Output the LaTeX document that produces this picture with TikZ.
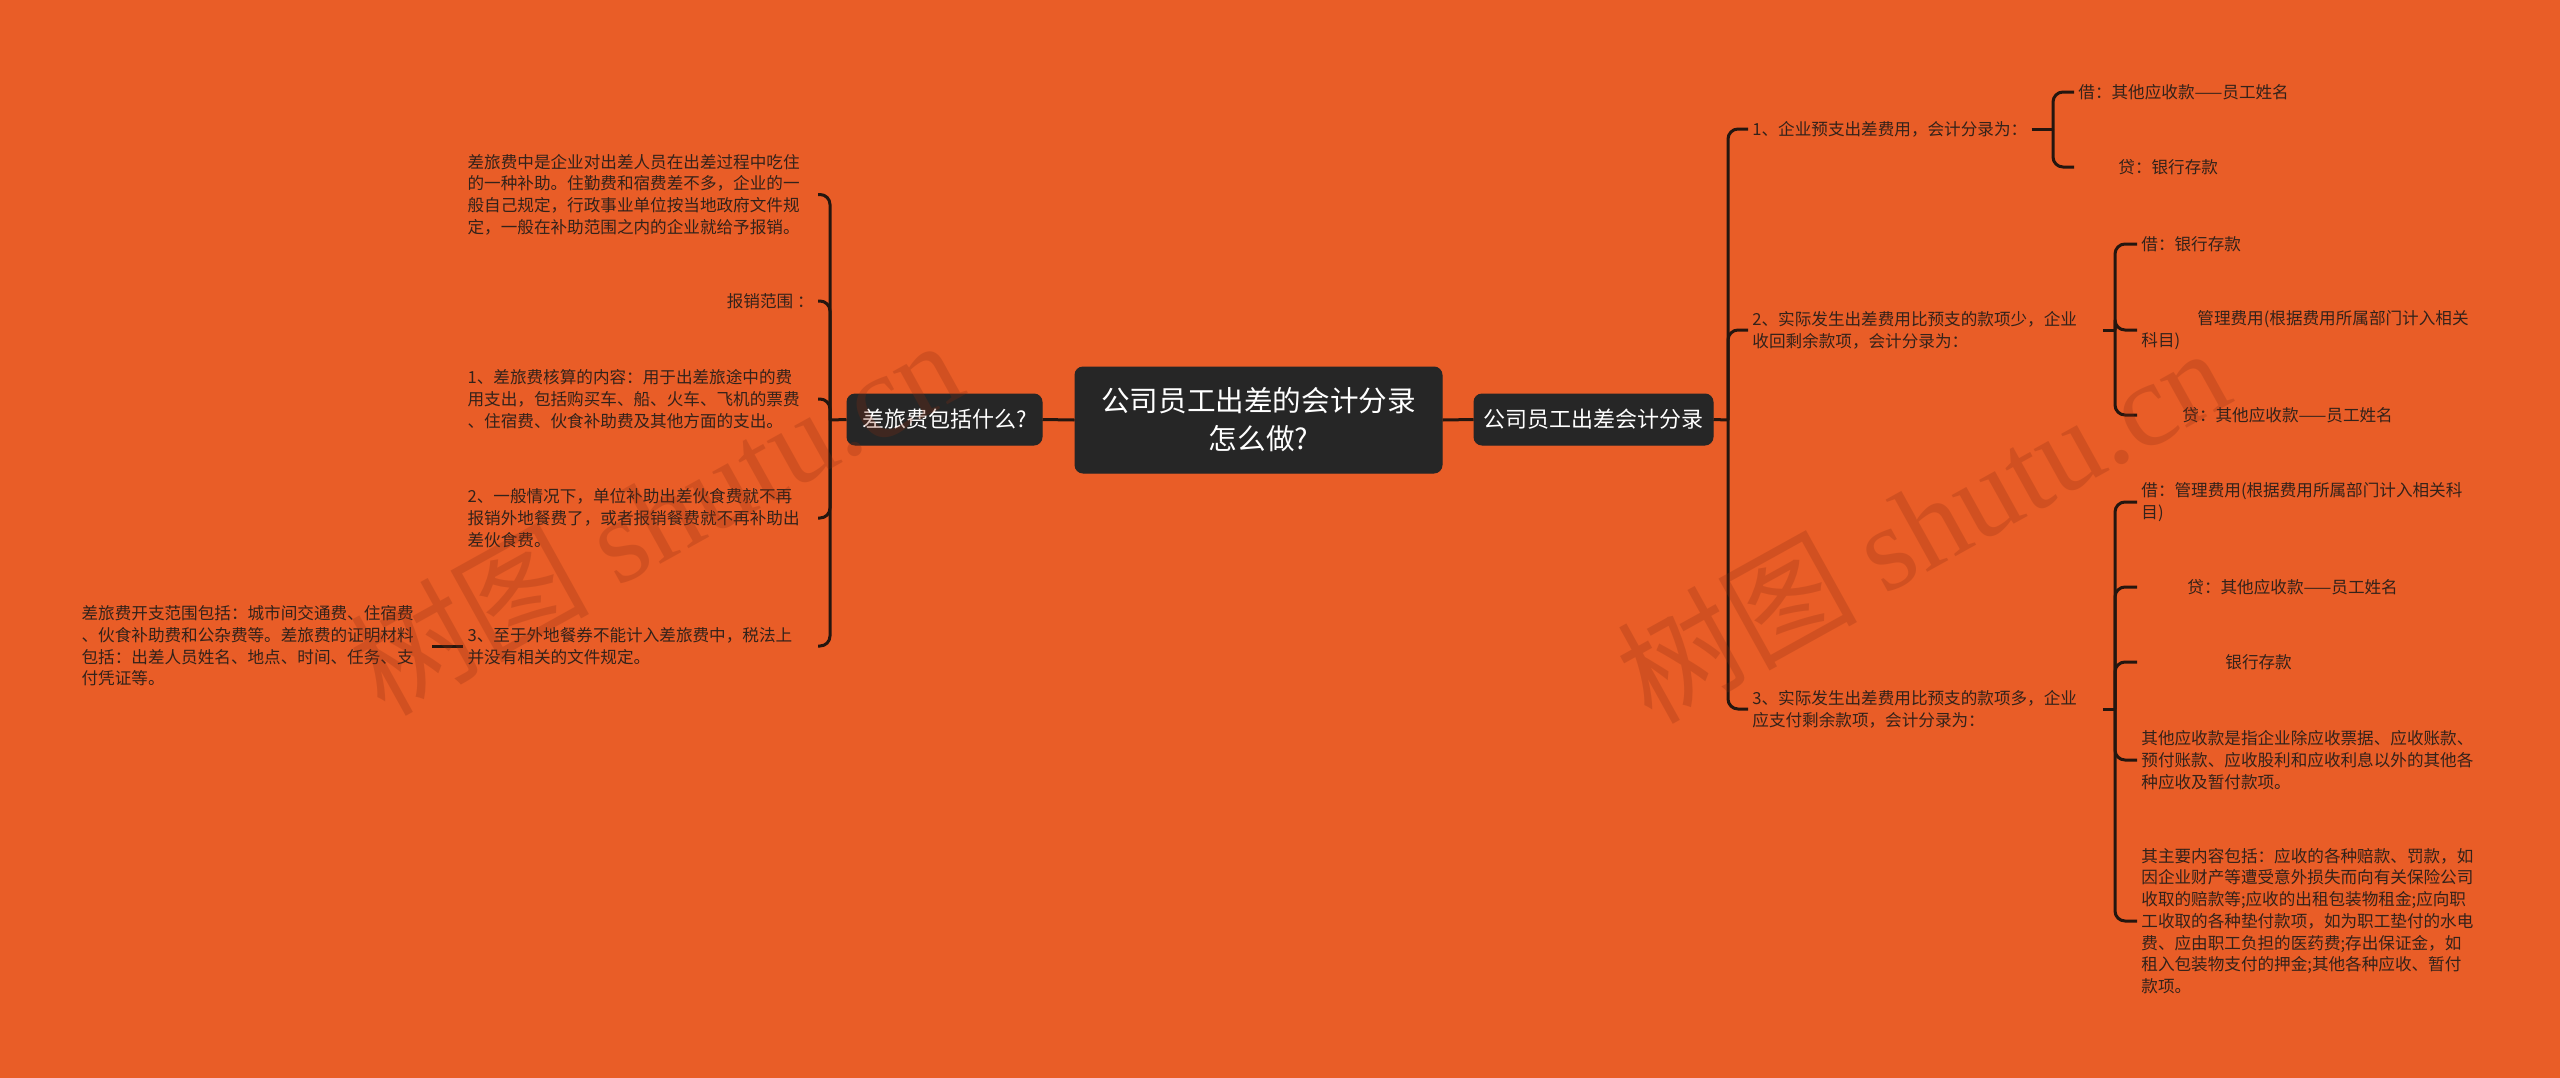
\documentclass[tikz,border=0pt]{standalone}
\usepackage{fontspec}
\setmainfont{Noto Sans CJK SC}
\newfontfamily\wmlatin{Liberation Serif}
\definecolor{bg}{HTML}{E95D27}
\definecolor{conn}{HTML}{24160F}
\definecolor{boxfill}{HTML}{262626}
\definecolor{leaftext}{HTML}{33221A}
\definecolor{wm}{HTML}{8A2D10}
\begin{document}
\begin{tikzpicture}[x=0.5pt,y=-0.5pt,
  every node/.style={inner sep=0pt},
  rootbox/.style={fill=boxfill, draw=black!85, line width=0.5pt, rounded corners=4pt, text=white, align=center},
  leaf/.style={text=leaftext, font=\fontsize{8.3pt}{10.85pt}\selectfont, align=left, inner xsep=2pt, inner ysep=1pt},
  wide/.style={leaf, text width=173pt},
  link/.style={draw=conn, line width=1.5pt},
  brace/.style={link, rounded corners=5pt},
  watermark/.style={rotate=29, text=wm, text opacity=0.25, font=\fontsize{60pt}{64pt}\selectfont}
]
\useasboundingbox (0,0) rectangle (2560,1077);
\fill[bg] (-20,-20) rectangle (2580,1097);

% central and first-level nodes
\node[rootbox, minimum width=183.5pt, minimum height=53pt, font=\fontsize{14.3pt}{19pt}\selectfont] (root) at (1258.5,420) {公司员工出差的会计分录\\怎么做?};
\node[rootbox, minimum width=97.5pt, minimum height=25.5pt, font=\fontsize{11pt}{13pt}\selectfont] (L) at (944.5,419.5) {差旅费包括什么?};
\node[rootbox, minimum width=119.5pt, minimum height=25.5pt, font=\fontsize{11pt}{13pt}\selectfont] (R) at (1593.5,419.5) {公司员工出差会计分录};

\draw[link] (root.west) -- (L.east);
\draw[link] (root.east) -- (R.west);

% left branch
\coordinate (ls) at (830,420);
\node[wide, anchor=east] (L1) at (818,194.5) {差旅费中是企业对出差人员在出差过程中吃住\\的一种补助。住勤费和宿费差不多，企业的一\\般自己规定，行政事业单位按当地政府文件规\\定，一般在补助范围之内的企业就给予报销。};
\node[leaf, anchor=east] (L2) at (818,301) {报销范围 ：};
\node[wide, anchor=east] (L3) at (818,399) {1、差旅费核算的内容：用于出差旅途中的费\\用支出，包括购买车、船、火车、飞机的票费\\、住宿费、伙食补助费及其他方面的支出。};
\node[wide, anchor=east] (L4) at (818,518) {2、一般情况下，单位补助出差伙食费就不再\\报销外地餐费了，或者报销餐费就不再补助出\\差伙食费。};
\node[wide, anchor=east] (L5) at (818,646) {3、至于外地餐券不能计入差旅费中，税法上\\并没有相关的文件规定。};
\node[wide, anchor=east] (L5a) at (432,646) {差旅费开支范围包括：城市间交通费、住宿费\\、伙食补助费和公杂费等。差旅费的证明材料\\包括：出差人员姓名、地点、时间、任务、支\\付凭证等。};

\draw[link] (L.west) -- (ls);
\foreach \n in {L1,L2,L3,L4,L5} \draw[brace] (ls) |- (\n.east);
\draw[link] (L5.west) -- (L5a.east);

% right branch
\coordinate (rs) at (1728,420);
\node[leaf, anchor=west] (R1) at (1748,129) {1、企业预支出差费用，会计分录为：};
\node[wide, anchor=west] (R2) at (1748,330) {2、实际发生出差费用比预支的款项少，企业\\收回剩余款项，会计分录为：};
\node[wide, anchor=west] (R3) at (1748,709) {3、实际发生出差费用比预支的款项多，企业\\应支付剩余款项，会计分录为：};

\draw[link] (R.east) -- (rs);
\foreach \n in {R1,R2,R3} \draw[brace] (rs) |- (\n.west);

% entries of 1
\coordinate (r1s) at (2053,129);
\node[leaf, anchor=west] (R1a) at (2074,92) {借：其他应收款——员工姓名};
\node[leaf, anchor=west] (R1b) at (2074,167) {\hspace*{20pt}贷：银行存款};
\draw[link] (R1.east) -- (r1s);
\foreach \n in {R1a,R1b} \draw[brace] (r1s) |- (\n.west);

% entries of 2
\coordinate (r2s) at (2115,330);
\node[leaf, anchor=west] (R2a) at (2137,244) {借：银行存款};
\node[wide, anchor=west] (R2b) at (2137,330) {\hspace*{28pt}管理费用(根据费用所属部门计入相关\\科目)};
\node[leaf, anchor=west] (R2c) at (2137,415) {\hspace*{20.5pt}贷：其他应收款——员工姓名};
\draw[link] (R2.east) -- (r2s);
\foreach \n in {R2a,R2b,R2c} \draw[brace] (r2s) |- (\n.west);

% entries of 3
\coordinate (r3s) at (2115,709);
\node[wide, anchor=west] (R3a) at (2137,502) {借：管理费用(根据费用所属部门计入相关科\\目)};
\node[leaf, anchor=west] (R3b) at (2137,587) {\hspace*{23pt}贷：其他应收款——员工姓名};
\node[leaf, anchor=west] (R3c) at (2137,662) {\hspace*{42pt}银行存款};
\node[wide, anchor=west] (R3d) at (2137,760) {其他应收款是指企业除应收票据、应收账款、\\预付账款、应收股利和应收利息以外的其他各\\种应收及暂付款项。};
\node[wide, anchor=west] (R3e) at (2137,921) {其主要内容包括：应收的各种赔款、罚款，如\\因企业财产等遭受意外损失而向有关保险公司\\收取的赔款等;应收的出租包装物租金;应向职\\工收取的各种垫付款项，如为职工垫付的水电\\费、应由职工负担的医药费;存出保证金，如\\租入包装物支付的押金;其他各种应收、暂付\\款项。};
\draw[link] (R3.east) -- (r3s);
\foreach \n in {R3a,R3b,R3c,R3d,R3e} \draw[brace] (r3s) |- (\n.west);

% watermarks
\node[watermark] (wm1) at (655,515) {树图 {\wmlatin shutu.cn}};
\node[watermark] (wm2) at (1922,523) {树图 {\wmlatin shutu.cn}};
\end{tikzpicture}
\end{document}
